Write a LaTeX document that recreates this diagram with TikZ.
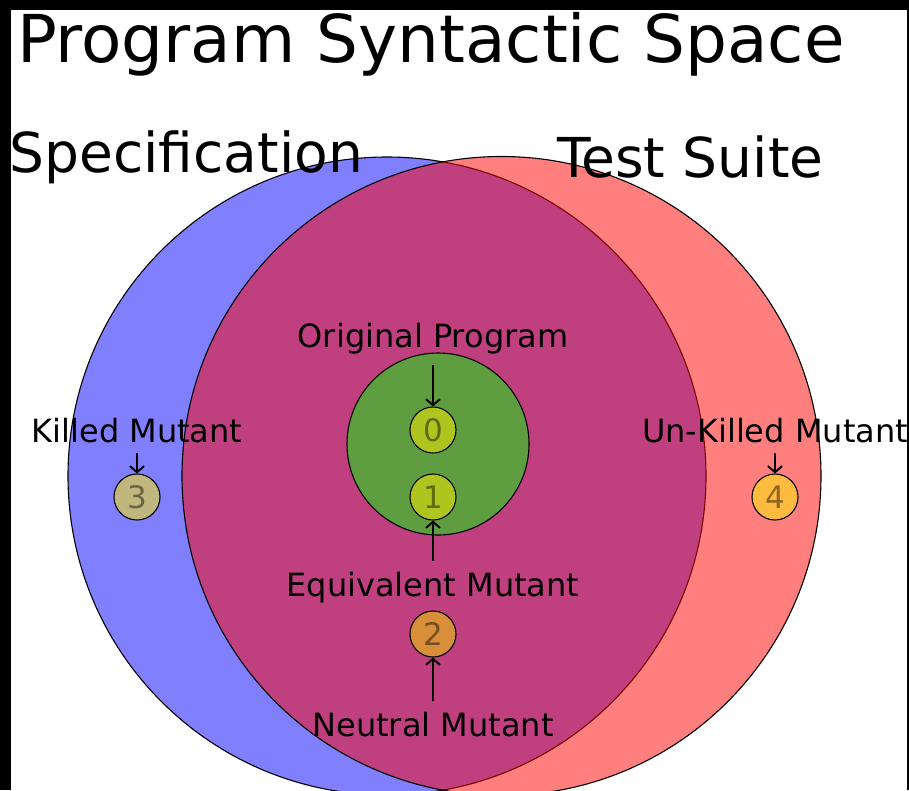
\documentclass[tikz,border=0pt]{standalone}
\usepackage{fontspec}
\setmainfont{DejaVu Sans}
\usetikzlibrary{arrows.meta}
\definecolor{specblue}{HTML}{8080FF}
\definecolor{greenset}{HTML}{5E9E40}
\definecolor{czero}{HTML}{AFC51F}
\definecolor{ctwo}{HTML}{D98E3A}
\definecolor{cthree}{HTML}{BFB77E}
\definecolor{cfour}{HTML}{FFBA40}
\tikzset{
  setcircle/.style={draw=black, line width=1.1pt},
  mutant/.style={circle, draw=black, line width=1.1pt, minimum size=46pt, inner sep=0pt,
     font=\fontsize{31}{31}\selectfont},
  lbl/.style={inner sep=0pt, anchor=base, text depth=0pt, font=\fontsize{32}{38}\selectfont},
  big/.style={inner sep=0pt, anchor=base west, text depth=0pt},
  arr/.style={line width=2pt, -{Straight Barb[length=6pt,width=14pt,line width=2pt]}},
}
\begin{document}
\begin{tikzpicture}[x=1pt,y=-1pt]
\useasboundingbox (0,0) rectangle (909,790);
\fill[white] (0,0) rectangle (909,790);
% sets
\draw[setcircle, fill=specblue] (387,476) circle[radius=319];
\draw[setcircle, fill=red, fill opacity=0.5] (501.5,476) circle[radius=319.5];
\draw[setcircle, fill=greenset] (438,444) circle[radius=91];
% frame
\fill[black] (0,0) rectangle (909,10);
\fill[black] (0,0) rectangle (11,790);
\fill[black] (906.5,0) rectangle (909,790);
% titles
\node[big, font=\fontsize{66}{80}\selectfont] (title) at (17,62) {Program Syntactic Space};
\node[big, font=\fontsize{55}{66}\selectfont] (spec) at (9.5,172) {Specification};
\node[big, font=\fontsize{55}{66}\selectfont] (test) at (557,177) {Test Suite};
% mutants
\node[mutant, fill=czero, text=czero!55!black] (n0) at (433,430) {0};
\node[mutant, fill=czero, text=czero!55!black] (n1) at (433,497) {1};
\node[mutant, fill=ctwo, text=ctwo!55!black] (n2) at (433,634) {2};
\node[mutant, fill=cthree, text=cthree!55!black] (n3) at (137,497) {3};
\node[mutant, fill=cfour, text=cfour!55!black] (n4) at (775,497) {4};
% labels
\node[lbl] (op) at (433,347) {Original Program};
\node[lbl] (kill) at (137,442) {Killed Mutant};
\node[lbl] (unkill) at (775,442) {Un-Killed Mutant};
\node[lbl] (equiv) at (433,596) {Equivalent Mutant};
\node[lbl] (neut) at (433,736) {Neutral Mutant};
% arrows
\draw[arr] ([yshift=-18pt]op.base) -- (n0.north);
\draw[arr] ([yshift=-11pt]kill.base) -- (n3.north);
\draw[arr] ([yshift=-11pt]unkill.base) -- (n4.north);
\draw[arr] ([yshift=35pt]equiv.base) -- (n1.south);
\draw[arr] ([yshift=35pt]neut.base) -- (n2.south);
\end{tikzpicture}
\end{document}
